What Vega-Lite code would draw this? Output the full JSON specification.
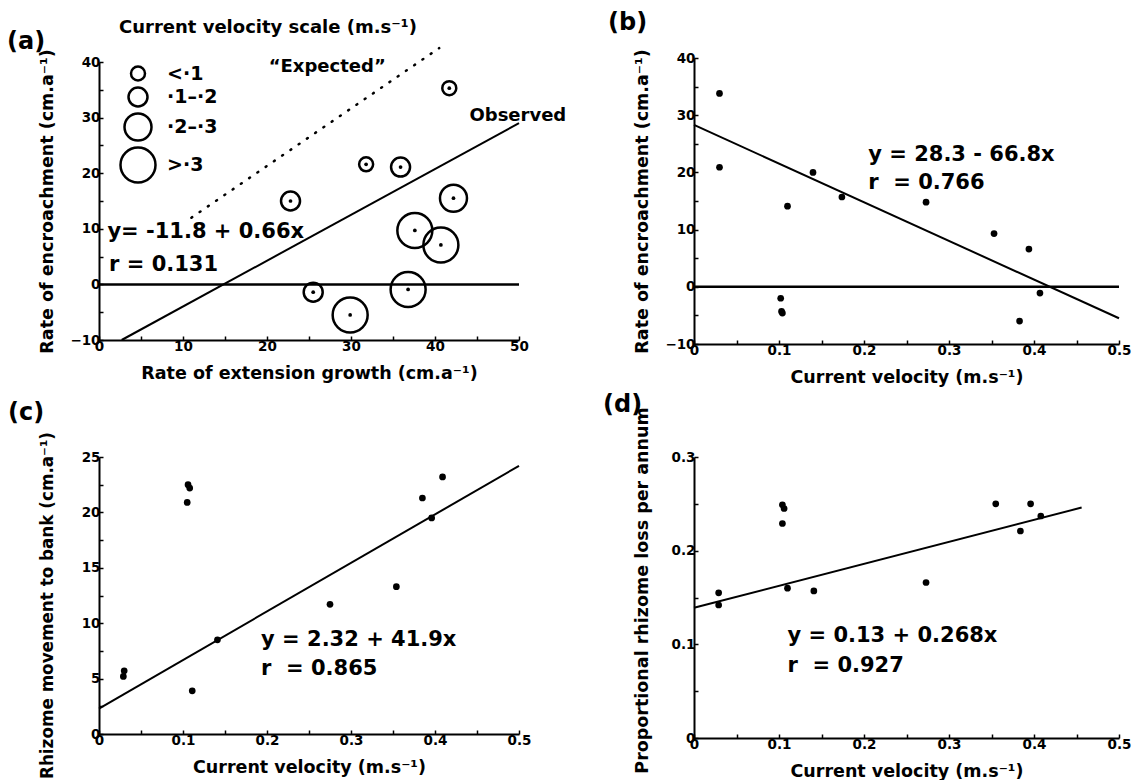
{
  "$schema": "https://vega.github.io/schema/vega-lite/v6.json",
  "background": "white",
  "padding": {"left": 7, "top": 10, "right": 5, "bottom": 5},
  "config": {
    "font": "DejaVu Sans",
    "view": {"stroke": null},
    "axis": {"grid": false, "domainColor": "black", "domainWidth": 2, "tickColor": "black", "tickWidth": 1.5, "tickSize": -4, "labelColor": "black", "labelFont": "DejaVu Sans", "labelFontSize": 13.5, "labelFontWeight": "bold", "labelPadding": 3, "labelFlush": false, "labelOverlap": false, "titleColor": "black", "titleFont": "DejaVu Sans", "titleFontSize": 17.5, "titleFontWeight": "bold"},
    "axisX": {"titleY": 33, "titleBaseline": "middle"},
    "axisY": {"titleX": -52, "titleBaseline": "middle"},
    "title": {"font": "DejaVu Sans", "fontSize": 24, "fontWeight": "bold", "color": "black", "anchor": "start", "frame": "group", "baseline": "middle"}
  },
  "datasets": {
    "a_zero": [{"x": 0, "y": 0}, {"x": 50, "y": 0}],
    "a_obs": [{"x": 2.7, "y": -10}, {"x": 50, "y": 29}],
    "a_exp": [{"x": 11, "y": 12}, {"x": 40.5, "y": 42.5}],
    "a_pts": [
      {"x": 41.7, "y": 35.3, "vel": "<·1"},
      {"x": 31.8, "y": 21.6, "vel": "<·1"},
      {"x": 35.9, "y": 21.1, "vel": "·1–·2"},
      {"x": 22.8, "y": 15.0, "vel": "·1–·2"},
      {"x": 25.5, "y": -1.4, "vel": "·1–·2"},
      {"x": 42.2, "y": 15.5, "vel": "·2–·3"},
      {"x": 37.6, "y": 9.7, "vel": ">·3"},
      {"x": 40.7, "y": 7.1, "vel": ">·3"},
      {"x": 36.8, "y": -0.9, "vel": ">·3"},
      {"x": 29.9, "y": -5.5, "vel": ">·3"}
    ],
    "a_eq": [
      {"x": 1.0, "y": 9.5, "t": "y= -11.8 + 0.66x"},
      {"x": 1.2, "y": 3.5, "t": "r = 0.131"}
    ],
    "a_lab": [
      {"x": 20.2, "y": 39.1, "t": "“Expected”"},
      {"x": 44.1, "y": 30.3, "t": "Observed"}
    ],
    "b_zero": [{"x": 0, "y": 0}, {"x": 0.5, "y": 0}],
    "b_line": [{"x": 0, "y": 28.3}, {"x": 0.5, "y": -5.5}],
    "b_pts": [
      {"x": 0.030, "y": 33.8}, {"x": 0.030, "y": 20.9}, {"x": 0.110, "y": 14.1},
      {"x": 0.140, "y": 20.0}, {"x": 0.174, "y": 15.7}, {"x": 0.273, "y": 14.8},
      {"x": 0.353, "y": 9.3}, {"x": 0.394, "y": 6.6}, {"x": 0.102, "y": -2.0},
      {"x": 0.103, "y": -4.3}, {"x": 0.104, "y": -4.6}, {"x": 0.407, "y": -1.1},
      {"x": 0.383, "y": -6.0}
    ],
    "b_txt": [
      {"x": 0.205, "y": 23.1, "t": "y = 28.3 - 66.8x"},
      {"x": 0.205, "y": 18.1, "t": "r\u00a0\u00a0= 0.766"}
    ],
    "c_line": [{"x": 0, "y": 2.3}, {"x": 0.5, "y": 24.2}],
    "c_pts": [
      {"x": 0.106, "y": 22.5}, {"x": 0.108, "y": 22.2}, {"x": 0.105, "y": 20.9},
      {"x": 0.111, "y": 3.9}, {"x": 0.141, "y": 8.5}, {"x": 0.029, "y": 5.2},
      {"x": 0.030, "y": 5.7}, {"x": 0.275, "y": 11.7}, {"x": 0.354, "y": 13.3},
      {"x": 0.385, "y": 21.3}, {"x": 0.396, "y": 19.5}, {"x": 0.409, "y": 23.2}
    ],
    "c_txt": [
      {"x": 0.193, "y": 8.5, "t": "y = 2.32 + 41.9x"},
      {"x": 0.193, "y": 5.9, "t": "r\u00a0\u00a0= 0.865"}
    ],
    "d_line": [{"x": 0, "y": 0.139}, {"x": 0.456, "y": 0.246}],
    "d_pts": [
      {"x": 0.104, "y": 0.249}, {"x": 0.106, "y": 0.245}, {"x": 0.104, "y": 0.229},
      {"x": 0.029, "y": 0.155}, {"x": 0.029, "y": 0.142}, {"x": 0.110, "y": 0.160},
      {"x": 0.141, "y": 0.157}, {"x": 0.273, "y": 0.166}, {"x": 0.355, "y": 0.250},
      {"x": 0.396, "y": 0.250}, {"x": 0.384, "y": 0.221}, {"x": 0.408, "y": 0.237}
    ],
    "d_txt": [
      {"x": 0.110, "y": 0.109, "t": "y = 0.13 + 0.268x"},
      {"x": 0.110, "y": 0.077, "t": "r\u00a0\u00a0= 0.927"}
    ]
  },
  "concat": [
    {
      "width": 420, "height": 278,
      "title": {"text": "(a)", "dx": -92, "offset": 0, "dy": 11},
      "encoding": {
        "x": {"field": "x", "type": "quantitative", "scale": {"domain": [0, 50], "nice": false, "zero": false},
              "axis": {"title": "Rate of extension growth (cm.a⁻¹)", "values": [0, 5, 10, 15, 20, 25, 30, 35, 40, 45, 50], "labelExpr": "datum.value % 10 == 0 ? datum.label : ''"}},
        "y": {"field": "y", "type": "quantitative", "scale": {"domain": [-10, 40], "nice": false},
              "axis": {"title": "Rate of encroachment (cm.a⁻¹)", "values": [-10, -5, 0, 5, 10, 15, 20, 25, 30, 35, 40], "labelExpr": "datum.value % 10 == 0 ? datum.label : ''"}}
      },
      "layer": [
        {"data": {"name": "a_zero"}, "mark": {"type": "line", "color": "black", "strokeWidth": 2.5}},
        {"data": {"name": "a_obs"}, "mark": {"type": "line", "color": "black", "strokeWidth": 2}},
        {"data": {"name": "a_exp"}, "mark": {"type": "line", "color": "black", "strokeWidth": 2.5, "strokeDash": [1, 9], "strokeCap": "round"}},
        {
          "data": {"name": "a_pts"},
          "mark": {"type": "point", "shape": "circle", "filled": false, "color": "black", "strokeWidth": 2.5, "opacity": 1},
          "encoding": {
            "size": {"field": "vel", "type": "ordinal",
                     "scale": {"type": "ordinal", "domain": ["<·1", "·1–·2", "·2–·3", ">·3"], "range": [196, 361, 729, 1225]},
                     "legend": {"orient": "none", "legendX": 20, "legendY": -39, "title": "Current velocity scale (m.s⁻¹)", "titleFont": "DejaVu Sans", "titleFontSize": 18, "titleFontWeight": "bold", "titleColor": "black", "titleLimit": 600, "titlePadding": 27, "labelFont": "DejaVu Sans", "labelFontSize": 19, "labelFontWeight": "bold", "labelColor": "black", "labelOffset": 10, "symbolStrokeColor": "black", "symbolStrokeWidth": 2.5, "symbolType": "circle", "rowPadding": -8, "padding": 0}}
          }
        },
        {"data": {"name": "a_pts"}, "mark": {"type": "point", "shape": "circle", "filled": true, "color": "black", "size": 14, "opacity": 1}},
        {
          "data": {"name": "a_eq"},
          "mark": {"type": "text", "align": "left", "baseline": "middle", "fontSize": 21, "fontWeight": "bold", "color": "black"},
          "encoding": {"text": {"field": "t"}}
        },
        {
          "data": {"name": "a_lab"},
          "mark": {"type": "text", "align": "left", "baseline": "middle", "fontSize": 18, "fontWeight": "bold", "color": "black"},
          "encoding": {"text": {"field": "t"}}
        }
      ]
    },
    {
      "width": 425, "height": 286,
      "title": {"text": "(b)", "dx": -86, "offset": 14},
      "encoding": {
        "x": {"field": "x", "type": "quantitative", "scale": {"domain": [0, 0.5], "nice": false, "zero": false},
              "axis": {"title": "Current velocity (m.s⁻¹)", "values": [0, 0.05, 0.1, 0.15, 0.2, 0.25, 0.3, 0.35, 0.4, 0.45, 0.5], "labelExpr": "abs(datum.value*10 - round(datum.value*10)) < 0.001 ? format(datum.value, '~g') : ''"}},
        "y": {"field": "y", "type": "quantitative", "scale": {"domain": [-10, 40], "nice": false},
              "axis": {"title": "Rate of encroachment (cm.a⁻¹)", "values": [-10, -5, 0, 5, 10, 15, 20, 25, 30, 35, 40], "labelExpr": "datum.value % 10 == 0 ? datum.label : ''"}}
      },
      "layer": [
        {"data": {"name": "b_zero"}, "mark": {"type": "line", "color": "black", "strokeWidth": 2.5}},
        {"data": {"name": "b_line"}, "mark": {"type": "line", "color": "black", "strokeWidth": 2}},
        {"data": {"name": "b_pts"}, "mark": {"type": "point", "shape": "circle", "filled": true, "color": "black", "size": 45, "opacity": 1}},
        {
          "data": {"name": "b_txt"},
          "mark": {"type": "text", "align": "left", "baseline": "middle", "fontSize": 21, "fontWeight": "bold", "color": "black"},
          "encoding": {"text": {"field": "t"}}
        }
      ]
    },
    {
      "width": 420, "height": 277,
      "title": {"text": "(c)", "dx": -91, "offset": 7},
      "encoding": {
        "x": {"field": "x", "type": "quantitative", "scale": {"domain": [0, 0.5], "nice": false, "zero": false},
              "axis": {"title": "Current velocity (m.s⁻¹)", "values": [0, 0.05, 0.1, 0.15, 0.2, 0.25, 0.3, 0.35, 0.4, 0.45, 0.5], "labelExpr": "abs(datum.value*10 - round(datum.value*10)) < 0.001 ? format(datum.value, '~g') : ''"}},
        "y": {"field": "y", "type": "quantitative", "scale": {"domain": [0, 25], "nice": false},
              "axis": {"title": "Rhizome movement to bank (cm.a⁻¹)", "titleFontSize": 16.8, "titleY": 148, "values": [0, 2.5, 5, 7.5, 10, 12.5, 15, 17.5, 20, 22.5, 25], "labelExpr": "datum.value % 5 == 0 ? datum.label : ''"}}
      },
      "layer": [
        {"data": {"name": "c_line"}, "mark": {"type": "line", "color": "black", "strokeWidth": 2}},
        {"data": {"name": "c_pts"}, "mark": {"type": "point", "shape": "circle", "filled": true, "color": "black", "size": 45, "opacity": 1}},
        {
          "data": {"name": "c_txt"},
          "mark": {"type": "text", "align": "left", "baseline": "middle", "fontSize": 21, "fontWeight": "bold", "color": "black"},
          "encoding": {"text": {"field": "t"}}
        }
      ]
    },
    {
      "width": 425, "height": 281,
      "title": {"text": "(d)", "dx": -91, "offset": 0, "dy": 10},
      "encoding": {
        "x": {"field": "x", "type": "quantitative", "scale": {"domain": [0, 0.5], "nice": false, "zero": false},
              "axis": {"title": "Current velocity (m.s⁻¹)", "values": [0, 0.05, 0.1, 0.15, 0.2, 0.25, 0.3, 0.35, 0.4, 0.45, 0.5], "labelExpr": "abs(datum.value*10 - round(datum.value*10)) < 0.001 ? format(datum.value, '~g') : ''"}},
        "y": {"field": "y", "type": "quantitative", "scale": {"domain": [0, 0.3], "nice": false},
              "axis": {"title": "Proportional rhizome loss per annum", "titleY": 133, "values": [0, 0.05, 0.1, 0.15, 0.2, 0.25, 0.3], "labelExpr": "abs(datum.value*10 - round(datum.value*10)) < 0.001 ? format(datum.value, '~g') : ''"}}
      },
      "layer": [
        {"data": {"name": "d_line"}, "mark": {"type": "line", "color": "black", "strokeWidth": 2}},
        {"data": {"name": "d_pts"}, "mark": {"type": "point", "shape": "circle", "filled": true, "color": "black", "size": 45, "opacity": 1}},
        {
          "data": {"name": "d_txt"},
          "mark": {"type": "text", "align": "left", "baseline": "middle", "fontSize": 21, "fontWeight": "bold", "color": "black"},
          "encoding": {"text": {"field": "t"}}
        }
      ]
    }
  ],
  "columns": 2,
  "spacing": {"row": 113, "column": 175},
  "bounds": "flush",
  "center": true
}
